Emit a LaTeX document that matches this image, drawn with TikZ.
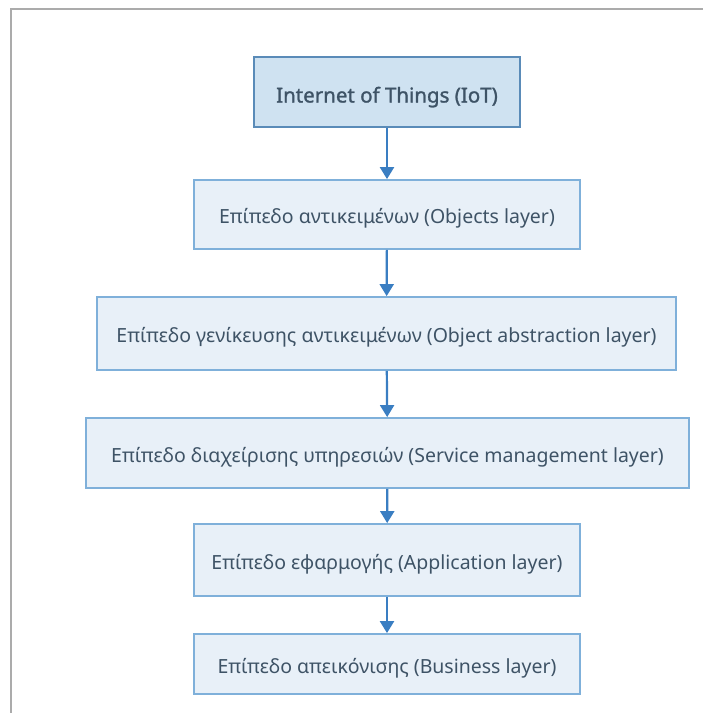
\documentclass[tikz,border=0pt]{standalone}
\usepackage{fontspec}
\setmainfont{Noto Sans}
\newfontfamily\titlefont{Noto Sans}[FakeBold=1.3]
\usetikzlibrary{arrows.meta}
\definecolor{framegray}{HTML}{ABABAB}
\definecolor{topfill}{HTML}{CFE2F1}
\definecolor{topline}{HTML}{5A8BB8}
\definecolor{layerfill}{HTML}{E8F0F8}
\definecolor{layerline}{HTML}{7FB0DA}
\definecolor{linkblue}{HTML}{3A7EC2}
\definecolor{textslate}{HTML}{3E5366}
\begin{document}
\begin{tikzpicture}[x=1pt,y=-1pt,
  layerbox/.style={draw=layerline, fill=layerfill, line width=1.8pt,
    inner sep=0pt, text=textslate, text height=19pt, text depth=0.5pt,
    font=\fontsize{19.5}{23}\selectfont},
  topbox/.style={layerbox, draw=topline, fill=topfill,
    text height=21pt, text depth=0pt,
    font=\titlefont\fontsize{20.5}{24}\selectfont},
  link/.style={draw=linkblue, line width=2.2pt,
    -{Triangle[length=12pt,width=14pt]}}]
\useasboundingbox (0,0) rectangle (703,713);
% outer frame (left and top edges)
\draw[framegray, line width=1.3pt] (11,713) -- (11,9) -- (703,9);
% stacked layers
\node[topbox, minimum width=266pt, minimum height=70pt] (iot) at (387,92) {Internet of Things (IoT)};
\node[layerbox, minimum width=386pt, minimum height=69pt] (obj) at (387,214.5) {Επίπεδο αντικειμένων (Objects layer)};
\node[layerbox, minimum width=579pt, minimum height=73pt] (abs) at (386.5,333.5) {Επίπεδο γενίκευσης αντικειμένων (Object abstraction layer)};
\node[layerbox, minimum width=603pt, minimum height=70pt] (svc) at (387.5,453) {Επίπεδο διαχείρισης υπηρεσιών (Service management layer)};
\node[layerbox, minimum width=386pt, minimum height=72pt] (app) at (387,560) {Επίπεδο εφαρμογής (Application layer)};
\node[layerbox, minimum width=386pt, minimum height=60pt] (bus) at (387,664) {Επίπεδο απεικόνισης (Business layer)};
% connectors
\draw[link] (iot) -- (obj);
\draw[link] (obj) -- (abs);
\draw[link] (abs) -- (svc);
\draw[link] (svc) -- (app);
\draw[link] (app) -- (bus);
\end{tikzpicture}
\end{document}
